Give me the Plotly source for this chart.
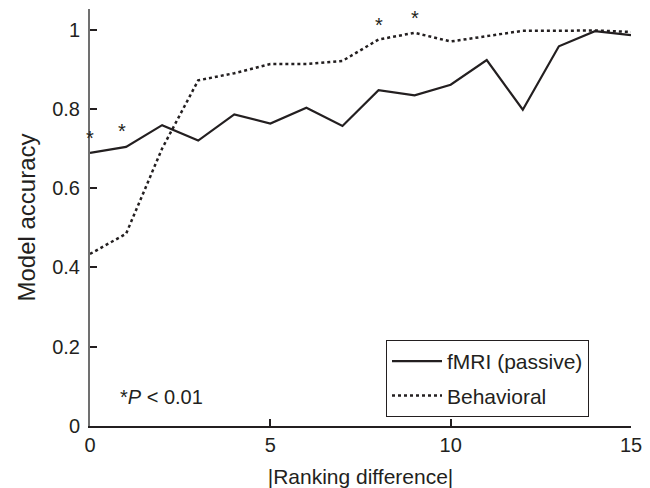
import plotly.graph_objects as go

rank_diff = list(range(16))
fmri_passive = [0.689, 0.704, 0.759, 0.720, 0.786, 0.763, 0.803, 0.757,
                0.847, 0.834, 0.861, 0.923, 0.798, 0.958, 0.996, 0.986]
behavioral = [0.434, 0.485, 0.700, 0.872, 0.890, 0.913, 0.913, 0.921,
              0.975, 0.992, 0.970, 0.984, 0.997, 0.997, 0.998, 0.994]
star_x = [0, 0.9, 8, 9]
star_y = [0.740, 0.757, 1.024, 1.043]
x_ticks = [0, 5, 10, 15]
y_ticks = [0, 0.2, 0.4, 0.6, 0.8, 1]

FONT = "Liberation Sans, Arial, Helvetica, sans-serif"
INK = "#231f20"

fig = go.Figure()
fig.add_trace(go.Scatter(x=rank_diff, y=fmri_passive, mode="lines",
                         name="fMRI (passive)", legendgroup="a",
                         line=dict(color=INK, width=2.2), cliponaxis=False))
fig.add_trace(go.Scatter(x=rank_diff, y=behavioral, mode="lines",
                         name="Behavioral", legendgroup="b",
                         line=dict(color=INK, width=2.5, dash="dot"), cliponaxis=False))

for sx, sy in zip(star_x, star_y):
    fig.add_annotation(x=sx, y=sy, xref="x", yref="y", text="*", showarrow=False,
                       font=dict(family=FONT, size=20, color=INK), yshift=-5)

fig.add_annotation(x=0.052, y=0.07, xref="paper", yref="paper", xanchor="left", yanchor="middle",
                   text="*<i>P</i> &lt; 0.01", showarrow=False,
                   font=dict(family=FONT, size=20, color=INK))

fig.update_layout(
    width=650, height=488,
    margin=dict(l=90, r=19, t=9, b=62),
    paper_bgcolor="white", plot_bgcolor="white",
    font=dict(family=FONT, size=20, color=INK),
    showlegend=True,
    legend=dict(x=0.922, xanchor="right", y=0.022, yanchor="bottom",
                bgcolor="white", bordercolor=INK, borderwidth=1.2,
                font=dict(family=FONT, size=21, color=INK),
                itemwidth=50, tracegroupgap=4),
    xaxis=dict(range=[0, 15], tickvals=x_ticks, ticktext=[str(v) for v in x_ticks],
               showgrid=False, zeroline=False, showline=True, linecolor=INK, linewidth=1.5,
               ticks="inside", ticklen=7, tickwidth=1.5, tickcolor=INK, automargin=False,
               title=dict(text="|Ranking difference|", standoff=17, font=dict(size=21)),
               tickfont=dict(size=20)),
    yaxis=dict(range=[0, 1.052], tickvals=y_ticks, ticktext=["0", "0.2", "0.4", "0.6", "0.8", "1"],
               showgrid=False, zeroline=False, showline=True, linecolor="#707070", linewidth=2,
               ticks="inside", ticklen=7, tickwidth=1.5, tickcolor=INK, automargin=False,
               ticklabelstandoff=4,
               title=dict(text="Model accuracy", standoff=10, font=dict(size=24)),
               tickfont=dict(size=20)),
)

fig.write_html("out.html")
